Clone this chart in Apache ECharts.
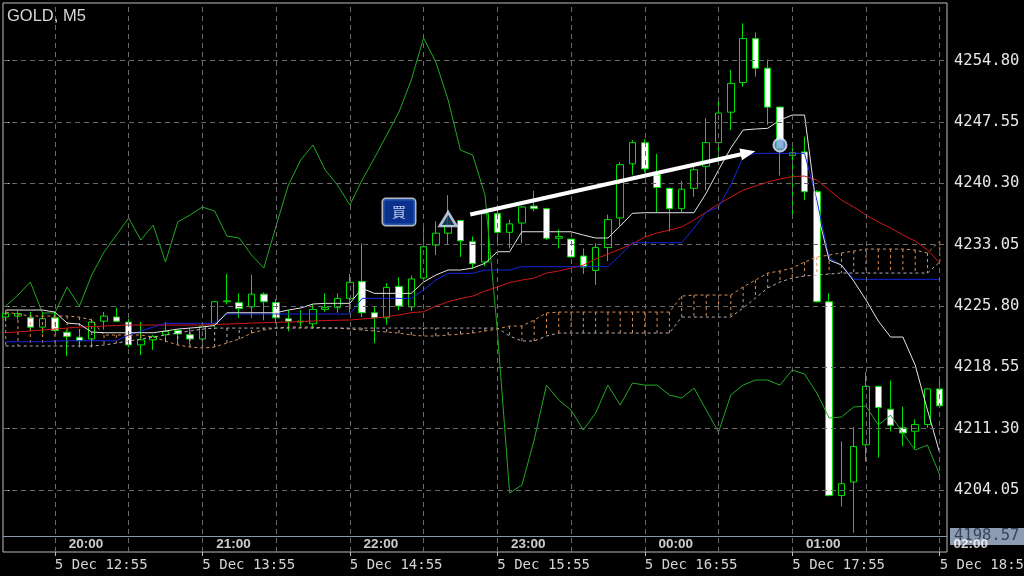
<!DOCTYPE html>
<html><head><meta charset="utf-8">
<script src="https://cdn.jsdelivr.net/npm/echarts@6/dist/echarts.min.js"></script>
<style>html,body{margin:0;padding:0;background:#000;}#c{width:1024px;height:576px;}</style>
</head><body><div id="c"></div>
<script>
const symbolTitle = 'GOLD, M5';
const times = ['12:35','12:40','12:45','12:50','12:55','13:00','13:05','13:10','13:15','13:20',
'13:25','13:30','13:35','13:40','13:45','13:50','13:55','14:00','14:05','14:10',
'14:15','14:20','14:25','14:30','14:35','14:40','14:45','14:50','14:55','15:00',
'15:05','15:10','15:15','15:20','15:25','15:30','15:35','15:40','15:45','15:50',
'15:55','16:00','16:05','16:10','16:15','16:20','16:25','16:30','16:35','16:40',
'16:45','16:50','16:55','17:00','17:05','17:10','17:15','17:20','17:25','17:30',
'17:35','17:40','17:45','17:50','17:55','18:00','18:05','18:10','18:15','18:20',
'18:25','18:30','18:35','18:40','18:45','18:50','18:55'];
const opens = [4224.5,4224.6,4224.4,4223.3,4224.4,4222.7,4222.1,4221.9,4224.0,4224.5,
4223.9,4221.2,4221.8,4222.4,4222.9,4222.4,4221.9,4223.7,4226.3,4226.2,
4225.7,4227.2,4226.2,4224.3,4224.0,4223.7,4225.4,4225.6,4226.7,4228.7,
4225.0,4224.4,4228.1,4225.7,4229.1,4233.0,4234.4,4235.9,4233.4,4231.0,
4236.7,4234.5,4235.6,4237.6,4237.3,4233.8,4233.7,4231.7,4230.0,4232.7,
4236.2,4242.6,4245.1,4241.3,4239.7,4237.3,4239.7,4242.3,4245.1,4248.7,
4252.2,4257.4,4253.9,4249.3,4243.6,4244.0,4239.3,4226.3,4203.4,4205.0,
4209.4,4216.3,4213.6,4211.4,4211.0,4211.8,4216.0];
const closes = [4224.9,4224.9,4223.3,4224.3,4222.9,4222.2,4221.7,4223.9,4224.6,4224.0,
4221.2,4221.8,4222.2,4222.8,4222.5,4221.9,4223.4,4226.3,4226.4,4225.5,
4227.2,4226.3,4224.4,4224.0,4223.9,4225.4,4225.6,4226.7,4228.6,4225.0,
4224.4,4228.0,4225.8,4229.0,4232.8,4234.4,4235.4,4233.5,4230.8,4236.7,
4234.5,4235.5,4237.5,4237.3,4233.8,4234.0,4231.6,4230.4,4232.7,4236.0,
4242.5,4245.1,4242.0,4239.8,4237.3,4239.6,4241.9,4245.1,4248.6,4252.1,
4257.4,4253.9,4249.3,4244.4,4243.9,4239.3,4226.3,4203.4,4204.8,4209.2,
4216.3,4213.8,4211.7,4210.8,4211.8,4216.0,4214.0];
const lows = [4224.0,4224.2,4222.8,4222.6,4222.8,4219.9,4220.9,4220.9,4223.0,4223.9,
4220.9,4220.0,4220.6,4221.5,4221.5,4221.3,4221.8,4223.3,4226.0,4224.4,
4224.4,4224.1,4223.7,4222.8,4223.4,4223.1,4225.1,4225.0,4225.0,4224.5,
4221.4,4223.6,4225.3,4225.2,4228.9,4231.8,4233.0,4231.6,4230.2,4230.5,
4233.2,4232.6,4233.2,4237.0,4233.6,4232.6,4231.5,4229.6,4228.3,4231.1,
4235.2,4241.3,4241.6,4236.9,4234.6,4236.9,4238.7,4239.5,4243.2,4246.6,
4251.7,4252.9,4247.2,4241.2,4236.5,4238.3,4226.2,4203.3,4202.1,4199.0,
4207.4,4207.9,4211.0,4209.2,4208.9,4211.4,4214.0];
const highs = [4225.3,4225.2,4225.1,4225.1,4225.1,4222.9,4223.0,4224.3,4225.1,4225.6,
4224.3,4223.9,4222.4,4223.9,4223.0,4223.2,4223.9,4226.4,4229.6,4227.3,
4229.5,4227.4,4226.6,4225.3,4225.3,4226.0,4227.3,4227.3,4229.6,4233.2,
4225.7,4228.5,4229.2,4229.4,4235.2,4235.8,4238.9,4236.0,4234.0,4237.0,
4237.1,4236.0,4237.6,4239.4,4237.4,4234.85,4233.7,4232.6,4233.2,4236.6,
4242.8,4245.4,4245.5,4243.8,4239.8,4240.6,4242.4,4248.0,4250.1,4253.7,
4259.2,4258.1,4254.9,4249.4,4244.5,4245.8,4239.5,4227.3,4209.8,4211.5,
4218.0,4216.4,4217.0,4213.9,4212.4,4216.1,4217.4];
// white line
const tenkan = [4225.32,4225.32,4225.32,4225.32,4225.08,4223.78,4223.66,4222.72,4222.64,4222.64,
4222.64,4222.64,4222.64,4222.84,4223.07,4223.19,4223.31,4223.50,4225.00,4225.00,
4225.00,4225.00,4225.00,4225.32,4225.56,4226.03,4226.11,4226.11,4226.11,4227.88,
4227.29,4227.29,4227.29,4227.29,4228.63,4229.46,4230.05,4230.05,4230.28,4230.84,
4232.21,4232.21,4234.57,4234.57,4234.57,4234.57,4234.57,4234.18,4233.83,4233.83,
4235.25,4236.75,4236.82,4236.82,4236.82,4236.82,4236.82,4239.14,4241.86,4244.46,
4246.59,4246.71,4246.79,4247.77,4248.36,4248.36,4237.14,4231.23,4230.64,4228.75,
4226.50,4224.02,4222.13,4222.13,4218.82,4213.50,4208.42];
// blue line
const kijun = [4221.57,4221.57,4221.57,4221.57,4221.66,4221.69,4221.69,4221.69,4221.69,4221.69,
4222.36,4222.84,4223.31,4223.75,4223.75,4223.75,4223.75,4223.75,4224.85,4224.85,
4224.85,4224.85,4224.85,4224.85,4224.85,4224.85,4224.85,4224.85,4224.85,4226.70,
4226.70,4226.70,4226.70,4226.70,4227.68,4228.86,4229.66,4229.66,4229.66,4230.05,
4230.05,4230.05,4230.44,4230.44,4230.44,4230.44,4230.44,4230.44,4230.44,4230.44,
4231.82,4233.27,4233.27,4233.27,4233.27,4233.27,4235.01,4236.90,4237.49,4240.09,
4243.40,4243.83,4243.83,4243.83,4243.83,4243.83,4238.32,4231.46,4230.64,4228.95,
4228.95,4228.95,4228.95,4228.95,4228.95,4228.95,4228.95];
// red line
const movingAvg = [4222.64,4222.74,4222.84,4222.96,4223.07,4223.19,4223.31,4223.37,4223.43,4223.49,
4223.55,4223.55,4223.55,4223.55,4223.55,4223.55,4223.55,4223.61,4223.66,4223.72,
4223.78,4223.82,4223.87,4223.90,4223.96,4224.02,4224.08,4224.11,4224.14,4224.26,
4224.37,4224.53,4224.73,4225.02,4225.12,4225.79,4226.30,4226.68,4226.97,4227.56,
4228.04,4228.57,4228.86,4229.10,4229.69,4229.93,4230.28,4230.64,4231.35,4231.94,
4232.53,4233.12,4233.95,4234.42,4234.77,4235.13,4235.95,4236.90,4237.84,4238.67,
4239.50,4239.97,4240.44,4240.80,4241.09,4241.15,4240.68,4239.50,4238.32,4237.49,
4236.55,4235.72,4235.01,4234.18,4233.47,4232.41,4230.87];
// cloud
const spanA = [4225.08,4224.85,4224.61,4224.61,4224.61,4224.61,4224.49,4224.14,4222.37,4222.37,
4222.37,4222.37,4222.13,4221.66,4221.18,4220.95,4220.83,4220.95,4221.42,4221.89,
4222.60,4222.96,4223.19,4223.31,4223.31,4223.31,4223.19,4223.19,4223.07,4222.96,
4222.84,4222.72,4222.60,4222.37,4222.25,4222.25,4222.37,4222.48,4222.60,4222.84,
4223.07,4223.43,4223.43,4224.14,4224.97,4225.08,4225.08,4225.08,4225.08,4225.08,
4225.08,4225.08,4225.08,4225.08,4225.08,4226.97,4227.09,4227.09,4227.09,4227.09,
4228.04,4228.86,4229.69,4229.93,4230.28,4230.99,4231.58,4231.82,4232.06,4232.29,
4232.53,4232.53,4232.53,4232.53,4232.41,4232.06,4233.47];
const spanB = [4221.07,4221.07,4221.07,4221.07,4221.07,4221.07,4221.07,4221.07,4221.18,4221.42,
4221.66,4221.89,4222.13,4222.37,4222.60,4222.84,4223.07,4223.19,4223.19,4223.19,
4223.19,4223.19,4223.19,4223.19,4223.19,4223.19,4223.19,4223.19,4223.19,4223.19,
4223.19,4223.19,4223.19,4223.19,4223.19,4223.19,4223.19,4223.19,4223.19,4223.19,
4223.19,4222.25,4221.66,4221.66,4222.25,4222.60,4222.60,4222.60,4222.60,4222.60,
4222.60,4222.60,4222.60,4222.60,4222.60,4224.49,4224.49,4224.49,4224.49,4224.49,
4225.56,4226.74,4227.92,4228.63,4229.10,4229.34,4229.46,4229.57,4229.69,4229.69,
4229.69,4229.69,4229.69,4229.69,4229.69,4229.69,4230.99];
// green line
const chikou = [4225.79,4227.09,4228.63,4224.97,4224.97,4228.04,4225.79,4229.46,4232.17,4234.18,
4236.19,4233.59,4235.36,4230.99,4235.72,4236.55,4237.49,4237.02,4234.06,4233.83,
4231.82,4230.28,4235.25,4240.09,4243.04,4244.82,4241.86,4240.09,4237.73,4240.68,
4243.28,4245.99,4248.72,4252.50,4257.46,4254.62,4250.13,4244.23,4243.63,4238.91,
4222.96,4203.70,4204.64,4209.96,4216.45,4214.69,4213.50,4211.14,4213.15,4216.45,
4214.09,4216.69,4216.45,4216.45,4215.28,4214.92,4216.10,4213.50,4210.90,4215.28,
4216.45,4217.05,4217.05,4216.45,4218.23,4217.76,4215.51,4212.56,4212.68,4213.86,
4213.97,4211.73,4212.91,4210.79,4208.78,4209.37,4205.82];

const priceTicks = [4204.05,4211.30,4218.55,4225.80,4233.05,4240.30,4247.55,4254.80];
const dateTickTimes = ['12:55','13:55','14:55','15:55','16:55','17:55','18:55'];
const dateLabel = '5 Dec';
const gridTimes = ['12:55','13:25','13:55','14:25','14:55','15:25','15:55','16:25','16:55','17:25','17:55','18:25','18:55'];
const jstTimes = ['13:00','14:00','15:00','16:00','17:00','18:00','19:00'];
const jstLabels = ['20:00','21:00','22:00','23:00','00:00','01:00','02:00'];
const jstRowPrice = 4197.67;
const hLinePrice = 4198.57;
const buyText = '買';
const buyBox = ['15:15', 4236.90];
const entryMark = ['15:35', 4236.06];
const exitMark = ['17:50', 4244.82];
const arrowFrom = ['15:44', 4236.60];
const arrowTo = ['17:37', 4243.90];

const toMin = t => { const p = t.split(':').map(Number); return p[0]*60 + p[1]; };
const idx = t => (toMin(t) - toMin(times[0])) / 5;
const MONO = 'DejaVu Sans Mono';

const candleData = times.map((t, i) => [i, opens[i], closes[i], lows[i], highs[i]]);
const lineData = arr => arr.map((v, i) => [i, v]);
const cloudData = times.map((t, i) => [i, spanA[i], spanB[i]]);

const chart = echarts.init(document.getElementById('c'));
chart.setOption({
  animation: false,
  backgroundColor: '#000',
  title: { text: symbolTitle, left: 7, top: 8, padding: 0,
    textStyle: { color: '#d8d8d8', fontSize: 16.5, fontWeight: 'normal', fontFamily: 'Liberation Sans' } },
  grid: { left: 3, right: 77, top: 3, bottom: 24, show: true, borderColor: '#bcbcbc', borderWidth: 1,
    backgroundColor: 'transparent', containLabel: false, outerBoundsMode: 'none' },
  xAxis: {
    type: 'value', min: -0.22, max: 76.59,
    splitLine: { show: false }, axisLine: { show: false },
    axisTick: { show: true, length: 4, lineStyle: { color: '#bcbcbc' }, customValues: dateTickTimes.map(idx) },
    axisLabel: { show: true, customValues: dateTickTimes.map(idx), align: 'left', margin: 6,
      color: '#d4d4d4', fontSize: 14, fontFamily: MONO,
      formatter: v => dateLabel + ' ' + times[Math.round(v)] }
  },
  yAxis: {
    type: 'value', position: 'right', min: 4196.73, max: 4261.60, scale: true,
    splitLine: { show: false }, axisLine: { show: false },
    axisTick: { show: true, length: 4, lineStyle: { color: '#bcbcbc' }, customValues: priceTicks },
    axisLabel: { show: true, customValues: priceTicks, margin: 7, color: '#e6e6e6', fontSize: 15.5, fontFamily: MONO,
      formatter: v => v.toFixed(2) }
  },
  series: [
    { type: 'line', data: [], z: 1, silent: true,
      markLine: { silent: true, symbol: 'none', animation: false, label: { show: false },
        lineStyle: { color: '#6a6a6a', type: [5, 4], width: 1 },
        data: gridTimes.map(t => ({ xAxis: idx(t) })).concat(priceTicks.map(p => ({ yAxis: p }))) } },
    { type: 'custom', z: 3, silent: true, clip: true,
      data: cloudData, encode: { x: 0, y: [1, 2] },
      renderItem: (params, api) => {
        const i = api.value(0), a = api.value(1), b = api.value(2);
        const p1 = api.coord([i, a]), p2 = api.coord([i, b]);
        return { type: 'line', shape: { x1: p1[0], y1: p1[1], x2: p2[0], y2: p2[1] },
          style: { stroke: a >= b ? '#d98f55' : '#b9adb9', lineWidth: 1, lineDash: [3, 3] } };
      } },
    { type: 'line', data: lineData(spanA), z: 3, symbol: 'none', silent: true,
      lineStyle: { color: '#d98f55', width: 1, type: [3, 3] } },
    { type: 'line', data: lineData(spanB), z: 3, symbol: 'none', silent: true,
      lineStyle: { color: '#b9adb9', width: 1, type: [3, 3] } },
    { type: 'candlestick', data: candleData, encode: { x: 0, y: [1, 2, 3, 4] }, z: 2, barWidth: 7,
      itemStyle: { color: '#000000', color0: '#ffffff', borderColor: '#00e000', borderColor0: '#00e000', borderColorDoji: '#00e000', borderWidth: 1 } },
    { type: 'line', data: lineData(chikou), z: 4, symbol: 'none', silent: true,
      lineStyle: { color: '#22a822', width: 1 } },
    { type: 'line', data: lineData(movingAvg), z: 4, symbol: 'none', silent: true,
      lineStyle: { color: '#d01818', width: 1 } },
    { type: 'line', data: lineData(kijun), z: 4, symbol: 'none', silent: true,
      lineStyle: { color: '#1428e0', width: 1 } },
    { type: 'line', data: lineData(tenkan), z: 4, symbol: 'none', silent: true,
      lineStyle: { color: '#e4e4e4', width: 1 } },
    { type: 'line', data: [], z: 6, silent: true,
      markLine: { silent: true, symbol: 'none', animation: false,
        lineStyle: { color: '#8796ac', type: 'solid', width: 1 },
        label: { show: true, position: 'end', distance: 3, formatter: hLinePrice.toFixed(2),
          backgroundColor: '#8d9cb2', color: '#34445a', fontSize: 15.5, fontFamily: MONO, padding: [1, 6, 0, 4] },
        data: [{ yAxis: hLinePrice }] } },
    { type: 'scatter', z: 8, silent: true, clip: false,
      data: [[idx(entryMark[0]), entryMark[1]]], symbol: 'triangle', symbolSize: [17, 14],
      itemStyle: { color: '#1b4662', borderColor: '#dbe7ff', borderWidth: 2.5 } },
    { type: 'scatter', z: 8, silent: true, clip: false,
      data: [[idx(exitMark[0]), exitMark[1]]], symbol: 'circle', symbolSize: 13,
      itemStyle: { color: '#6e9ed6', borderColor: '#e6eeff', borderWidth: 2 } },
    { type: 'scatter', z: 8, silent: true, clip: false,
      data: [[idx(buyBox[0]), buyBox[1]]], symbolSize: 1, itemStyle: { color: 'transparent' },
      label: { show: true, position: 'inside', formatter: buyText, color: '#e8eefc', fontSize: 14, fontFamily: 'Noto Sans CJK JP',
        backgroundColor: '#0c3fb0', borderColor: '#dfe4f0', borderWidth: 1.5, borderRadius: 3,
        width: 16, height: 15, lineHeight: 15, align: 'center', verticalAlign: 'middle', padding: [6, 8, 5, 8] },
      markLine: { silent: true, animation: false, symbol: ['none', 'triangle'], symbolSize: [12, 15],
        lineStyle: { color: '#ffffff', width: 4, type: 'solid' }, label: { show: false },
        data: [[{ coord: [idx(arrowFrom[0]), arrowFrom[1]] }, { coord: [idx(arrowTo[0]), arrowTo[1]] }]] } },
    { type: 'scatter', z: 10, silent: true, clip: false,
      data: jstTimes.map(t => [idx(t), jstRowPrice]), symbolSize: 1, itemStyle: { color: 'transparent' },
      label: { show: true, position: 'right', distance: 1, color: '#ffffff', fontSize: 13.5, fontWeight: 'bold', fontFamily: 'Liberation Sans',
        formatter: p => jstLabels[p.dataIndex] } }
  ]
});
</script>
</body></html>
